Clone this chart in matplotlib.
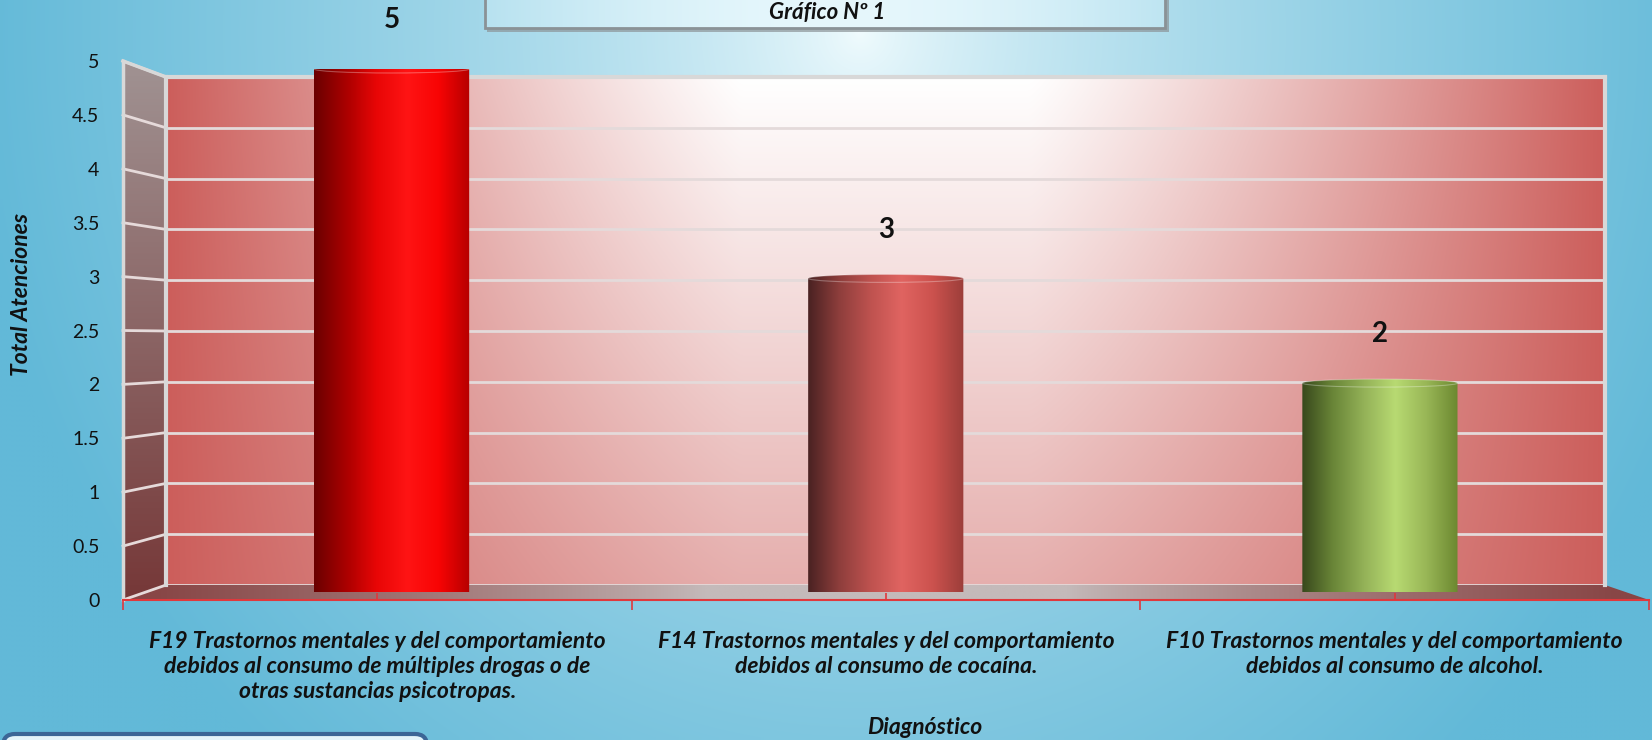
"""
Gráfico Nº 1: total atenciones por diagnóstico (cilindros estilo Excel 3D)
"""
import numpy as np
import matplotlib
matplotlib.use("Agg")
import matplotlib.pyplot as plt
from matplotlib.colors import LinearSegmentedColormap, to_rgb
from matplotlib.patches import Polygon, Ellipse, FancyBboxPatch

categories = [
    "F19 Trastornos mentales y del comportamiento\n"
    "debidos al consumo de múltiples drogas o de\n"
    "otras sustancias psicotropas.",
    "F14 Trastornos mentales y del comportamiento\n"
    "debidos al consumo de cocaína.",
    "F10 Trastornos mentales y del comportamiento\n"
    "debidos al consumo de alcohol.",
]
values = [5, 3, 2]
y_ticks = [0, 0.5, 1, 1.5, 2, 2.5, 3, 3.5, 4, 4.5, 5]
y_tick_labels = ["0", "0.5", "1", "1.5", "2", "2.5", "3", "3.5", "4", "4.5", "5"]
title = "Gráfico Nº 1"
y_label = "Total Atenciones"
x_label = "Diagnóstico"

bar_stops = [
    ["#6A0000", "#A80000", "#E80606", "#FF1414", "#F80404", "#B60000"],
    ["#4A2222", "#8E3E3C", "#BE524F", "#E06461", "#CC524E", "#9C3E3A"],
    ["#38481C", "#6A8638", "#94B258", "#B8DA72", "#98B656", "#6C8830"],
]

plt.rcParams["font.family"] = ["Lato", "DejaVu Sans"]

W, H = 1652, 740
fig = plt.figure(figsize=(W / 100, H / 100), dpi=100)


def px_axes(x0, x1, y_top, y_bot, z):
    ax = fig.add_axes([x0 / W, 1 - y_bot / H, (x1 - x0) / W, (y_bot - y_top) / H])
    ax.set_zorder(z)
    ax.patch.set_visible(False)
    return ax


def mix(c0, c1, a):
    c0 = np.array(to_rgb(c0))
    c1 = np.array(to_rgb(c1))
    return c0 * (1 - a[..., None]) + c1 * a[..., None]


# planes of the fake 3D box: x0, x1, y at value 5, y at value 0 (pixels)
FRONT = (123, 1649, 61, 600)
MID = (144.5, 1627, 69, 592.5)
BACK = (166, 1605, 77, 585)

# background
bg = fig.add_axes([0, 0, 1, 1])
bg.set_zorder(0)
bg.axis("off")
bg.set_xlim(0, W)
bg.set_ylim(H, 0)
gx, gy = np.meshgrid(np.linspace(0, W, 330), np.linspace(0, H, 148))
d = np.sqrt(((gx - 860) / 1050) ** 2 + ((gy - 30) / 1150) ** 2)
bg.imshow(mix("#F2FCFE", "#62B9D8", np.clip(d / 0.85, 0, 1) ** 0.7),
          extent=[0, W, H, 0], aspect="auto", interpolation="bilinear", zorder=0)

# side wall
side = Polygon([(FRONT[0], FRONT[2]), (BACK[0], BACK[2]), (BACK[0], BACK[3]),
                (FRONT[0], FRONT[3])], closed=True, facecolor="none",
               edgecolor="none", zorder=1)
bg.add_patch(side)
sy = np.linspace(0, 1, 100)[:, None] * np.ones((1, 4))
im = bg.imshow(mix("#A09292", "#763838", sy), extent=[FRONT[0], BACK[0], FRONT[3], FRONT[2]],
               aspect="auto", interpolation="bilinear", zorder=1)
im.set_clip_path(side)

# floor
floor = Polygon([(FRONT[0], FRONT[3]), (BACK[0], BACK[3]), (BACK[1], BACK[3]),
                 (FRONT[1], FRONT[3])], closed=True, facecolor="none",
                edgecolor="none", zorder=1)
bg.add_patch(floor)
fu = np.linspace(0, 1, 400)[None, :] * np.ones((4, 1))
fa = np.clip((np.abs(fu - 0.5) - 0.12) / 0.36, 0, 1) ** 0.8
im = bg.imshow(mix("#C4BABA", "#884646", fa), extent=[FRONT[0], FRONT[1], FRONT[3], BACK[3]],
               aspect="auto", interpolation="bilinear", zorder=1)
im.set_clip_path(floor)

# back wall
ax_back = px_axes(BACK[0], BACK[1], BACK[2], BACK[3], 1)
bu, bw = np.meshgrid(np.linspace(0, 1, 400), np.linspace(0, 1, 200))
h = np.clip((np.abs(bu - 0.5) - 0.1) / 0.4, 0, 1) ** 1.15
a = 1 - (1 - h) * (1 - 0.5 * bw)
ax_back.imshow(mix("#FFFFFF", "#CC5E5B", a), extent=[-0.5, 2.5, 0, 5],
               aspect="auto", interpolation="bilinear", zorder=0)
ax_back.set_xlim(-0.5, 2.5)
ax_back.set_ylim(0, 5)
for v in y_ticks:
    ax_back.axhline(v, color="#E4DADA", lw=2, zorder=1)
for s in ("left", "right", "top"):
    ax_back.spines[s].set_color("#D8D8D8")
    ax_back.spines[s].set_linewidth(3)
ax_back.spines["bottom"].set_visible(False)
ax_back.set_xticks([])
ax_back.set_yticks([])

# front plane: axes, ticks and labels
ax_front = px_axes(FRONT[0], FRONT[1], FRONT[2], FRONT[3], 4)
ax_front.set_xlim(-0.5, 2.5)
ax_front.set_ylim(0, 5)
for s in ("left", "right", "top"):
    ax_front.spines[s].set_visible(False)
ax_front.spines["bottom"].set_color("#E0383C")
ax_front.spines["bottom"].set_linewidth(1.5)
ax_front.set_yticks(y_ticks, labels=y_tick_labels)
ax_front.tick_params(axis="y", length=0, pad=17, labelsize=14, labelcolor="#111111")
ax_front.set_xticks([-0.5, 0.5, 1.5, 2.5], labels=["", "", "", ""])
ax_front.set_xticks([0, 1, 2], labels=categories, minor=True)
ax_front.tick_params(axis="x", which="major", direction="out", length=7, width=1.2,
                     color="#E0383C")
ax_front.tick_params(axis="x", which="minor", direction="in", length=5, width=1.2,
                     color="#E0383C", pad=22)
for lab in ax_front.get_xticklabels(minor=True):
    lab.set_fontsize(16.5)
    lab.set_fontweight("bold")
    lab.set_fontstyle("italic")
    lab.set_multialignment("center")
    lab.set_linespacing(1.25)
    lab.set_color("#111111")

# side wall grid lines
inv = bg.transData.inverted()
for v in y_ticks:
    p0 = inv.transform(ax_front.transData.transform((-0.5, v)))
    p1 = inv.transform(ax_back.transData.transform((-0.5, v)))
    bg.plot([p0[0], p1[0]], [p0[1], p1[1]], color="#E6DADA", lw=2, zorder=2)
bg.plot([FRONT[0], FRONT[0]], [FRONT[2], FRONT[3]], color="#D8D8D8", lw=2.5, zorder=2)
bg.plot([FRONT[0], BACK[0]], [FRONT[2], BACK[2]], color="#D8D8D8", lw=2.5, zorder=2)

# cylinders
ax_mid = px_axes(MID[0], MID[1], MID[2], MID[3], 3)
ax_mid.axis("off")
half = 0.157
e = 4.0 * 5 / (MID[3] - MID[2])
t_bot = np.linspace(np.pi, 2 * np.pi, 60)
t_top = np.linspace(0, np.pi, 60)
for i, (v, stops) in enumerate(zip(values, bar_stops)):
    cmap = LinearSegmentedColormap.from_list(f"bar{i}", stops)
    verts = np.vstack([
        np.column_stack([i + half * np.cos(t_bot), e * np.sin(t_bot)]),
        np.column_stack([i + half * np.cos(t_top), v + e * np.sin(t_top)]),
    ])
    body = Polygon(verts, closed=True, facecolor="none", edgecolor="none")
    ax_mid.add_patch(body)
    im = ax_mid.imshow(np.linspace(0, 1, 256)[None, :], cmap=cmap,
                       extent=[i - half, i + half, -e, v + e], aspect="auto",
                       interpolation="bilinear")
    im.set_clip_path(body)
    ax_mid.add_patch(Ellipse((i, v), 2 * half, 2 * e, facecolor="none",
                             edgecolor="white", lw=0.8, alpha=0.3))
    ax_mid.annotate(str(v), (i, v), xytext=(0, 35), textcoords="offset points",
                    ha="center", va="center", fontsize=20, fontweight="bold",
                    color="#111111")
ax_mid.set_xlim(-0.5, 2.5)
ax_mid.set_ylim(0, 5)

# axis titles
fig.text(22 / W, 1 - 295 / H, y_label, rotation=90, ha="center", va="center",
         fontsize=16.5, fontweight="bold", fontstyle="italic", color="#111111")
fig.text(925 / W, 1 - 727 / H, x_label, ha="center", va="center",
         fontsize=16.5, fontweight="bold", fontstyle="italic", color="#111111")

# title box
bg.add_patch(FancyBboxPatch((487, -20), 682, 52, boxstyle="square,pad=0",
                            facecolor="#8C9498", edgecolor="none", alpha=0.7, zorder=3))
box = FancyBboxPatch((485, -20), 680, 48, boxstyle="square,pad=0",
                     facecolor="none", edgecolor="#8A9296", lw=2, zorder=5)
bg.add_patch(box)
tu = np.linspace(0, 1, 200)[None, :] * np.ones((4, 1))
im = bg.imshow(mix("#B8E2F0", "#E6F7FC", np.abs(np.sin(tu * 3.0))), extent=[485, 1165, 28, -20],
               aspect="auto", interpolation="bilinear", zorder=4)
im.set_clip_path(box)
bg.text(827, 2, title, ha="center", va="top", fontsize=16,
        fontweight="bold", fontstyle="italic", color="#111111", zorder=6)

# bottom-left box (cut by the edge)
bg.add_patch(FancyBboxPatch((3, 734), 424, 40, boxstyle="round,pad=0,rounding_size=12",
                            facecolor="#E4F4FA", edgecolor="#3C6696", lw=3, zorder=3))
bg.set_xlim(0, W)
bg.set_ylim(H, 0)

fig.savefig("out.png", dpi=100)
